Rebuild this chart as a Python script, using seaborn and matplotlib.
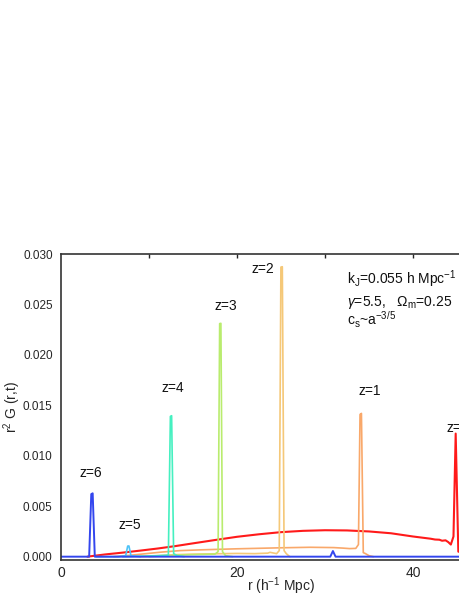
import numpy as np
import pandas as pd
import matplotlib
matplotlib.use("Agg")
import matplotlib.pyplot as plt
from matplotlib.ticker import MultipleLocator, FormatStrFormatter
import seaborn as sns

# ---- data ----
r_z0 = [3.0, 5.0, 7.0, 9.0, 11.0, 13.0, 15.0, 17.5, 20.0, 22.5, 25.0, 27.5, 30.0, 32.5,
        35.0, 37.5, 40.0, 42.0, 42.5, 43.0, 43.3, 43.7, 44.0, 44.3, 44.6, 44.85, 45.15, 45.6, 46.5]
g_z0 = [0.0, 0.00022, 0.00040, 0.00060, 0.00081, 0.00105, 0.00132, 0.00165, 0.00197, 0.00222,
        0.00243, 0.00256, 0.00262, 0.00260, 0.00250, 0.00232, 0.00200, 0.00178, 0.00170, 0.00168,
        0.00158, 0.00162, 0.00145, 0.00120, 0.00200, 0.0122, 0.0005, 0.0004, 0.0003]

r_z1 = [6.0, 8.0, 11.25, 13.5, 16.0, 20.0, 25.0, 28.3, 31.0, 32.0, 32.8, 33.5, 33.8, 33.98, 34.14,
        34.35, 34.6, 35.0, 35.5]
g_z1 = [0.0, 0.00015, 0.00044, 0.00060, 0.00068, 0.00078, 0.00088, 0.00093, 0.00090, 0.00085,
        0.00080, 0.00082, 0.0012, 0.0141, 0.0142, 0.0004, 0.0003, 0.0001, 0.0]

r_z2 = [9.0, 11.0, 13.0, 15.0, 17.0, 18.5, 20.0, 22.0, 23.5, 23.75, 24.5, 24.8, 24.99, 25.15,
        25.35, 25.6, 26.0]
g_z2 = [0.0, 0.00010, 0.00020, 0.00025, 0.00028, 0.00030, 0.00032, 0.00030, 0.00035, 0.00043,
        0.00030, 0.0006, 0.0287, 0.02874, 0.0006, 0.0003, 0.0]

r_z3 = [10.0, 12.0, 14.0, 16.0, 17.5, 17.85, 18.03, 18.17, 18.35, 18.7, 19.5]
g_z3 = [0.0, 0.00010, 0.00018, 0.00022, 0.00025, 0.0005, 0.0231, 0.02313, 0.0005, 0.0001, 0.0]

r_z4 = [7.0, 9.0, 11.0, 12.2, 12.43, 12.57, 12.8, 13.2, 14.0]
g_z4 = [0.0, 0.00005, 0.00010, 0.00015, 0.0139, 0.01397, 0.0003, 0.0001, 0.0]

r_z5 = [4.0, 6.5, 7.35, 7.58, 7.72, 7.95, 9.0]
g_z5 = [0.0, 0.0, 0.0001, 0.00105, 0.00106, 0.0001, 0.0]

r_z6 = [0.0, 3.2, 3.44, 3.6, 3.84, 30.6, 30.9, 31.2, 50.0]
g_z6 = [0.0, 0.0, 0.0062, 0.00628, 0.0, 0.0, 0.00056, 0.0, 0.0]

labels = ["z=0", "z=1", "z=2", "z=3", "z=4", "z=5", "z=6"]
colors = ["#FF1A1A", "#F9A86A", "#F5C878", "#B9EC6E", "#45F0C0", "#4FC3F7", "#3346EE"]
widths = [1.5, 1.2, 1.2, 1.2, 1.2, 1.2, 1.4]

label_r = [43.8, 35.1, 22.95, 18.7, 12.7, 7.8, 3.35]
label_g = [0.01276, 0.01645, 0.02848, 0.02488, 0.01675, 0.0031, 0.0083]

x_ticks = [0, 20, 40]
y_ticks = [0.000, 0.005, 0.010, 0.015, 0.020, 0.025, 0.030]

info_lines = [r"k$_\mathrm{J}$=0.055 h Mpc$^{-1}$",
              r"$\gamma$=5.5,   $\Omega_\mathrm{m}$=0.25",
              r"c$_\mathrm{s}$~a$^{-3/5}$"]
info_g = [0.02752, 0.02521, 0.02346]

# ---- build table ----
series = [(r_z0, g_z0), (r_z1, g_z1), (r_z2, g_z2), (r_z3, g_z3),
          (r_z4, g_z4), (r_z5, g_z5), (r_z6, g_z6)]

sns.set_style("white")
plt.rcParams["font.family"] = ["Liberation Sans", "DejaVu Sans"]
plt.rcParams["mathtext.fontset"] = "custom"
plt.rcParams["mathtext.rm"] = "Liberation Sans"
plt.rcParams["mathtext.it"] = "Liberation Sans:italic"
plt.rcParams["mathtext.sf"] = "Liberation Sans"

fig = plt.figure(figsize=(4.6, 5.95), dpi=100)
ax = fig.add_axes([61 / 460, 35 / 595, 440 / 460, 306 / 595])

for lab, (rr, gg), col, lw in zip(labels, series, colors, widths):
    d = pd.DataFrame({"r": rr, "g": gg})
    sns.lineplot(data=d, x="r", y="g", color=col, sort=False, estimator=None,
                 linewidth=lw, ax=ax)

ax.set_xlim(0, 50)
ax.set_ylim(-0.00033, 0.030)

ax.set_xticks(x_ticks)
ax.xaxis.set_minor_locator(MultipleLocator(10))
ax.set_yticks(y_ticks)
ax.yaxis.set_minor_locator(MultipleLocator(0.0025))
ax.yaxis.set_major_formatter(FormatStrFormatter("%.3f"))

ax.tick_params(axis="x", which="major", direction="out", length=4, width=1,
               labelsize=10, pad=0.5, top=False)
ax.tick_params(axis="x", which="minor", direction="out", length=2.5, width=1, top=False)
ax.tick_params(axis="y", which="major", direction="out", length=4, width=1,
               labelsize=8.5, pad=2)
ax.tick_params(axis="y", which="minor", direction="out", length=2.5, width=1)

# top inner ticks
ax_top = ax.secondary_xaxis("top")
ax_top.set_xticks([10, 20, 30, 40])
ax_top.tick_params(direction="in", length=3, width=1, labeltop=False)
ax_top.spines["top"].set_visible(False)

for s in ["top", "bottom", "left", "right"]:
    ax.spines[s].set_visible(True)
    ax.spines[s].set_color("#333333")
    ax.spines[s].set_linewidth(1.2)

ax.set_xlabel(r"r (h$^{-1}$ Mpc)", fontsize=10, labelpad=-3.5)
ax.set_ylabel(r"r$^{2}$ G (r,t)", fontsize=10, labelpad=0)

for lab, xr, yg in zip(labels, label_r, label_g):
    ha = "left" if lab == "z=0" else "center"
    ax.text(xr, yg, lab, fontsize=10, ha=ha, va="center", color="#111111")

for line, yg in zip(info_lines, info_g):
    ax.text(32.5, yg, line, fontsize=10, ha="left", va="center", color="#111111")

fig.savefig("out.png", dpi=100)
